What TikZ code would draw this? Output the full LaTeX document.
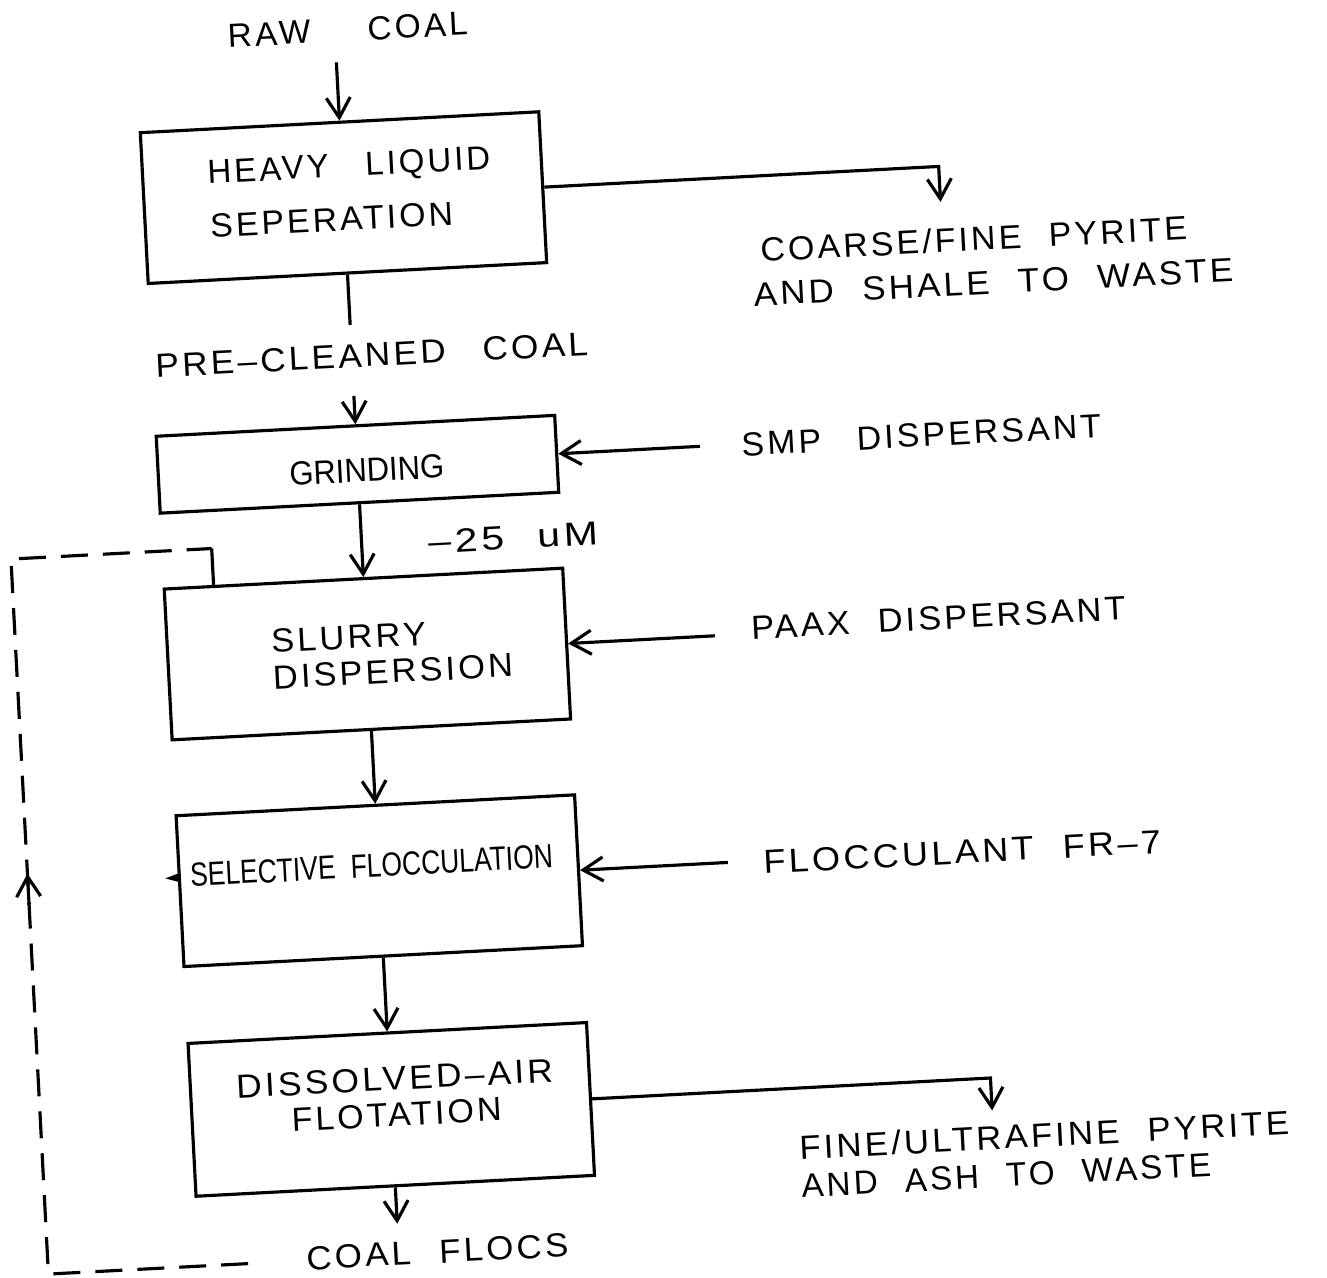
\documentclass[tikz,border=0pt]{standalone}
\usepackage{fontspec}
\setmainfont{Liberation Sans}
% stencil-like lettering: open tracking and wide word gaps
\newfontfamily\lettrfont[LetterSpace=9,WordSpace=2.2]{Liberation Sans}
\newfontfamily\plainfont{Liberation Sans}
\usetikzlibrary{arrows.meta}
% set a line of lettering to a given width, keeping its height
\newcommand\fitto[2]{\resizebox{#1}{\height}{#2}}

\begin{document}
\begin{tikzpicture}[x=0.1mm,y=0.1mm,
  line width=0.9pt,
  blk/.style={draw, minimum width=3.99cm, minimum height=1.51cm, inner sep=0pt},
  lbl/.style={inner sep=0pt, align=left, font=\lettrfont\fontsize{9.5}{10.3}\selectfont},
  plbl/.style={inner sep=0pt, font=\plainfont\fontsize{9.5}{10.3}\selectfont},
  arr/.style={-{Straight Barb[length=2mm,width=2.4mm]}},
  feed/.style={dash pattern=on 2.7mm off 1.5mm},
]
\fill[white] (0,0) rectangle (1327,1277);
\useasboundingbox (0,0) rectangle (1327,1277);

\begin{scope}[rotate around={3:(663.5,638.5)}, transform shape]

% ---- process blocks ----
\node[blk] (b1) at (367,1095.5) {};
\node[blk, minimum height=0.77cm] (b2) at (367,828.5) {};
\node[blk] (b3) at (367,638.5) {};
\node[blk] (b4) at (367,411.5) {};
\node[blk, minimum height=1.53cm] (b5) at (367,182.5) {};

% ---- block captions ----
\node[lbl, anchor=west] (t1) at (231,1101)
  {\fitto{2.83cm}{HEAVY\hspace{1mm} LIQUID}\\[5pt]\fitto{2.43cm}{SEPERATION}};
\node[plbl] (t2) at (376,822) {\fitto{1.55cm}{GRINDING}};
\node[lbl, anchor=west] (t3) at (270,638)
  {\fitto{1.55cm}{SLURRY}\\\fitto{2.40cm}{DISPERSION}};
\node[plbl] (t4) at (360,427) {\fitto{3.63cm}{SELECTIVE\hspace{1mm} FLOCCULATION}};
\node[lbl, align=center] (t5) at (372,195)
  {\fitto{3.17cm}{DISSOLVED–AIR}\\\fitto{2.10cm}{FLOTATION}};

% ---- stream labels ----
\node[lbl] (raw) at (380,1263) {\fitto{2.40cm}{RAW\hspace{3mm} COAL}};
\node[lbl] (pre) at (387,937) {\fitto{4.33cm}{PRE–CLEANED\hspace{0.8mm} COAL}};
\node[lbl, anchor=west] (size) at (432,747) {\fitto{1.70cm}{–25 uM}};
\node[lbl, anchor=west] (waste1) at (770,999.4)
  {\hspace{0.9mm}\fitto{4.27cm}{COARSE/FINE PYRITE}\\[2.2pt]\fitto{4.80cm}{AND SHALE TO WASTE}};
\node[lbl, anchor=west] (smp) at (750,828) {\fitto{3.60cm}{SMP\hspace{0.8mm} DISPERSANT}};
\node[lbl, anchor=west] (paax) at (750,644.5) {\fitto{3.75cm}{PAAX DISPERSANT}};
\node[lbl, anchor=west] (floc) at (750,409.6) {\fitto{3.98cm}{FLOCCULANT FR–7}};
\node[lbl, anchor=west] (waste2) at (771,103.8)
  {\fitto{4.90cm}{FINE/ULTRAFINE PYRITE}\\[0.5pt]\fitto{4.10cm}{AND ASH TO WASTE}};
\node[lbl, anchor=west] (flocs) at (273,38) {\fitto{2.62cm}{COAL FLOCS}};

% ---- connector end points ----
\coordinate (c0) at (367,1231);
\coordinate (w1) at (963,1060);
\coordinate (p1) at (367,968);
\coordinate (p2) at (367,897);
\coordinate (s1) at (710,828.5);
\coordinate (s2) at (715,638.5);
\coordinate (s3) at (716,411.5);
\coordinate (w2) at (967,150);
\coordinate (f1) at (367,68);
\coordinate (m0) at (167,425);
\coordinate (m1) at (153,425);

% ---- main flow ----
\draw[arr] (c0) -- (b1.north);
\draw[arr] (b1.east) -| (w1);
\draw (b1.south) -- (p1);
\draw[arr] (p2) -- (b2.north);
\draw[arr] (s1) -- (b2.east);
\draw[arr] (b2.south) -- (b3.north);
\draw[arr] (s2) -- (b3.east);
\draw[arr] (b3.south) -- (b4.north);
\draw[arr] (s3) -- (b4.east);
\draw[-{Triangle[length=1.4mm,width=0.8mm]}, line width=0.6pt] (m0) -- (m1);
\draw[arr] (b4.south) -- (b5.north);
\draw[arr] (b5.east) -| (w2);
\draw[arr] (b5.south) -- (f1);

% ---- recycle loop ----
\coordinate (d1) at (216,36);
\coordinate (d2) at (16,36);
\coordinate (d3) at (16,752);
\coordinate (d4) at (217,752);
\coordinate (a1) at (16,405);
\coordinate (a2) at (16,437);
\draw[feed] (d1) -- (d2) -- (d3) -- (d4);
\draw (d4) -- (d4 |- b3.north);
\draw[arr] (a1) -- (a2);

\end{scope}
\end{tikzpicture}
\end{document}
